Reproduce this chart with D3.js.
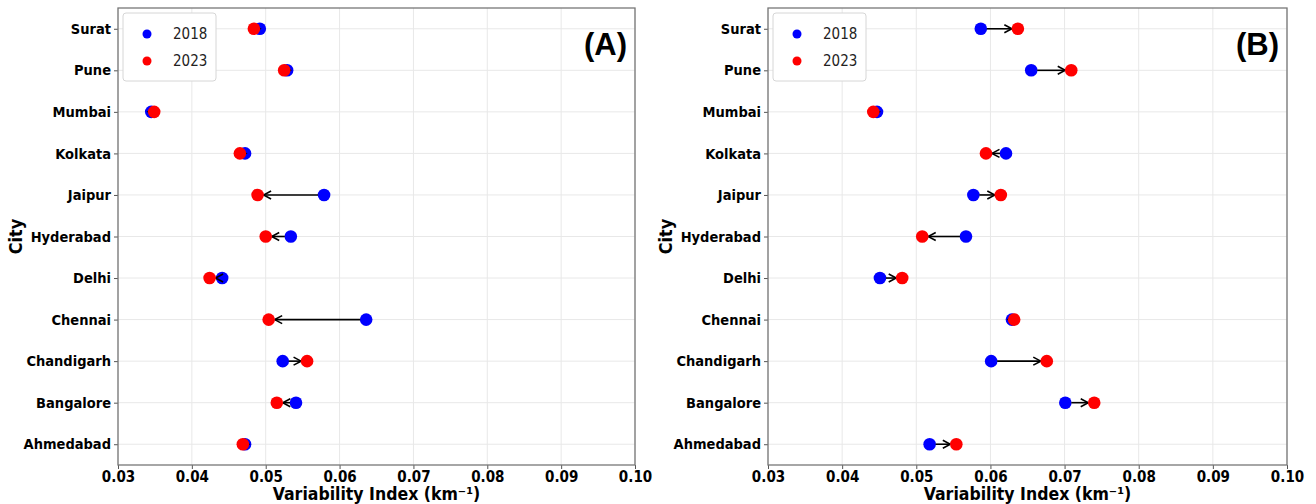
<!DOCTYPE html>
<html>
<head>
<meta charset="utf-8">
<script src="https://cdn.jsdelivr.net/npm/d3@7"></script>
<style>
  body { margin: 0; background: #fff; }
  text { font-family: "DejaVu Sans Condensed", "DejaVu Sans", sans-serif; font-stretch: condensed; }
</style>
</head>
<body>
<div id="chart"></div>
<script>
// cities, bottom to top
const cities = ["Ahmedabad", "Bangalore", "Chandigarh", "Chennai", "Delhi", "Hyderabad",
    "Jaipur", "Kolkata", "Mumbai", "Pune", "Surat"];

// panel A
const a2018 = [0.0472, 0.0541, 0.0523, 0.0636, 0.0441, 0.0534, 0.0579, 0.0472, 0.0345, 0.0529, 0.0492];
const a2023 = [0.0469, 0.0515, 0.0556, 0.0504, 0.0424, 0.0500, 0.0489, 0.0465, 0.0349, 0.0525, 0.0484];

// panel B
const b2018 = [0.0518, 0.0701, 0.0601, 0.0629, 0.0451, 0.0567, 0.0577, 0.0621, 0.0447, 0.0655, 0.0587];
const b2023 = [0.0554, 0.0740, 0.0676, 0.0632, 0.0481, 0.0508, 0.0614, 0.0594, 0.0442, 0.0709, 0.0637];

const xTicks = [0.03, 0.04, 0.05, 0.06, 0.07, 0.08, 0.09, 0.10];
const seriesNames = ["2018", "2023"];
const seriesColors = ["#0000ff", "#ff0000"];

const W = 1316, H = 504;
const svg = d3.select("#chart").append("svg")
    .attr("width", W)
    .attr("height", H);

svg.append("defs").append("marker")
    .attr("id", "head")
    .attr("viewBox", "-10 -6 12 12")
    .attr("refX", 0)
    .attr("refY", 0)
    .attr("markerWidth", 12)
    .attr("markerHeight", 12)
    .attr("markerUnits", "userSpaceOnUse")
    .attr("orient", "auto")
    .append("path")
    .attr("d", "M-7.5,-4L0,0L-7.5,4")
    .attr("fill", "none")
    .attr("stroke", "#000")
    .attr("stroke-width", 1.6);

function drawPanel(left, right, v18, v23, tag) {
    const top = 8, bottom = 465;
    const x = d3.scaleLinear().domain([0.03, 0.10]).range([left, right]);
    const y = d3.scaleLinear().domain([-0.5, cities.length - 0.5]).range([bottom, top]);
    const g = svg.append("g");

    // grid
    g.selectAll(".gx").data(xTicks).join("line")
        .attr("x1", d => x(d)).attr("x2", d => x(d))
        .attr("y1", top).attr("y2", bottom)
        .attr("stroke", "#e8e8e8").attr("stroke-width", 1);
    g.selectAll(".gy").data(cities).join("line")
        .attr("x1", left).attr("x2", right)
        .attr("y1", (d, i) => y(i)).attr("y2", (d, i) => y(i))
        .attr("stroke", "#e8e8e8").attr("stroke-width", 1);

    // axes
    const xAxis = g.append("g")
        .attr("transform", `translate(0,${bottom})`)
        .call(d3.axisBottom(x).tickValues(xTicks).tickFormat(d3.format(".2f")).tickSize(4).tickPadding(2));
    xAxis.select(".domain").remove();
    xAxis.selectAll("text").style("font-size", "15px").style("font-weight", "bold")
        .style("font-family", "DejaVu Sans Condensed, DejaVu Sans").attr("fill", "#000");
    xAxis.selectAll("line").attr("stroke", "#555");

    const yAxis = g.append("g")
        .attr("transform", `translate(${left},0)`)
        .call(d3.axisLeft(y).tickValues(d3.range(cities.length)).tickFormat(i => cities[i]).tickSize(4).tickPadding(3));
    yAxis.select(".domain").remove();
    yAxis.selectAll("text").style("font-size", "14.5px").style("font-weight", "bold")
        .style("font-family", "DejaVu Sans Condensed, DejaVu Sans").attr("fill", "#000");
    yAxis.selectAll("line").attr("stroke", "#555");

    g.append("rect")
        .attr("x", left).attr("y", top)
        .attr("width", right - left).attr("height", bottom - top)
        .attr("fill", "none").attr("stroke", "#777").attr("stroke-width", 1.3);

    const r = 6.3;
    // 2018 dots
    g.selectAll(".d18").data(v18).join("circle")
        .attr("cx", d => x(d)).attr("cy", (d, i) => y(i)).attr("r", r).attr("fill", seriesColors[0]);

    // arrows 2018 -> 2023
    v18.forEach(function (d, i) {
        const xa = x(d), xb = x(v23[i]);
        const s = xb >= xa ? 1 : -1;
        const sh = 6;
        g.append("line")
            .attr("x1", xa + s * sh).attr("x2", xb - s * sh)
            .attr("y1", y(i)).attr("y2", y(i))
            .attr("stroke", "#000").attr("stroke-width", 1.6)
            .attr("marker-end", "url(#head)");
    });

    // 2023 dots
    g.selectAll(".d23").data(v23).join("circle")
        .attr("cx", d => x(d)).attr("cy", (d, i) => y(i)).attr("r", r).attr("fill", seriesColors[1]);

    // legend
    const lg = g.append("g").attr("transform", `translate(${left + 5},13)`);
    lg.append("rect")
        .attr("width", 93).attr("height", 68).attr("rx", 3)
        .attr("fill", "#fff").attr("stroke", "#d6d6d6").attr("stroke-width", 1);
    seriesNames.forEach(function (n, k) {
        lg.append("circle").attr("cx", 24).attr("cy", 21 + k * 27).attr("r", 4.5).attr("fill", seriesColors[k]);
        lg.append("text").attr("x", 50).attr("y", 26 + k * 27)
            .style("font-size", "15px").attr("fill", "#222").text(n);
    });

    // panel tag
    g.append("text")
        .attr("x", right - 8).attr("y", 55)
        .attr("text-anchor", "end")
        .style("font-family", "Liberation Sans, Arial, sans-serif")
        .style("font-stretch", "normal")
        .style("font-size", "31px").style("font-weight", "bold")
        .text(tag);

    // axis labels
    g.append("text")
        .attr("x", (left + right) / 2).attr("y", 500)
        .attr("text-anchor", "middle")
        .style("font-size", "17.5px").style("font-weight", "bold")
        .text("Variability Index (km\u207B\u00B9)");
    g.append("text")
        .attr("transform", `translate(${left - 96},${(top + bottom) / 2}) rotate(-90)`)
        .attr("text-anchor", "middle")
        .style("font-size", "18px").style("font-weight", "bold")
        .text("City");
}

drawPanel(118, 635, a2018, a2023, "(A)");
drawPanel(768, 1287, b2018, b2023, "(B)");
</script>
</body>
</html>
